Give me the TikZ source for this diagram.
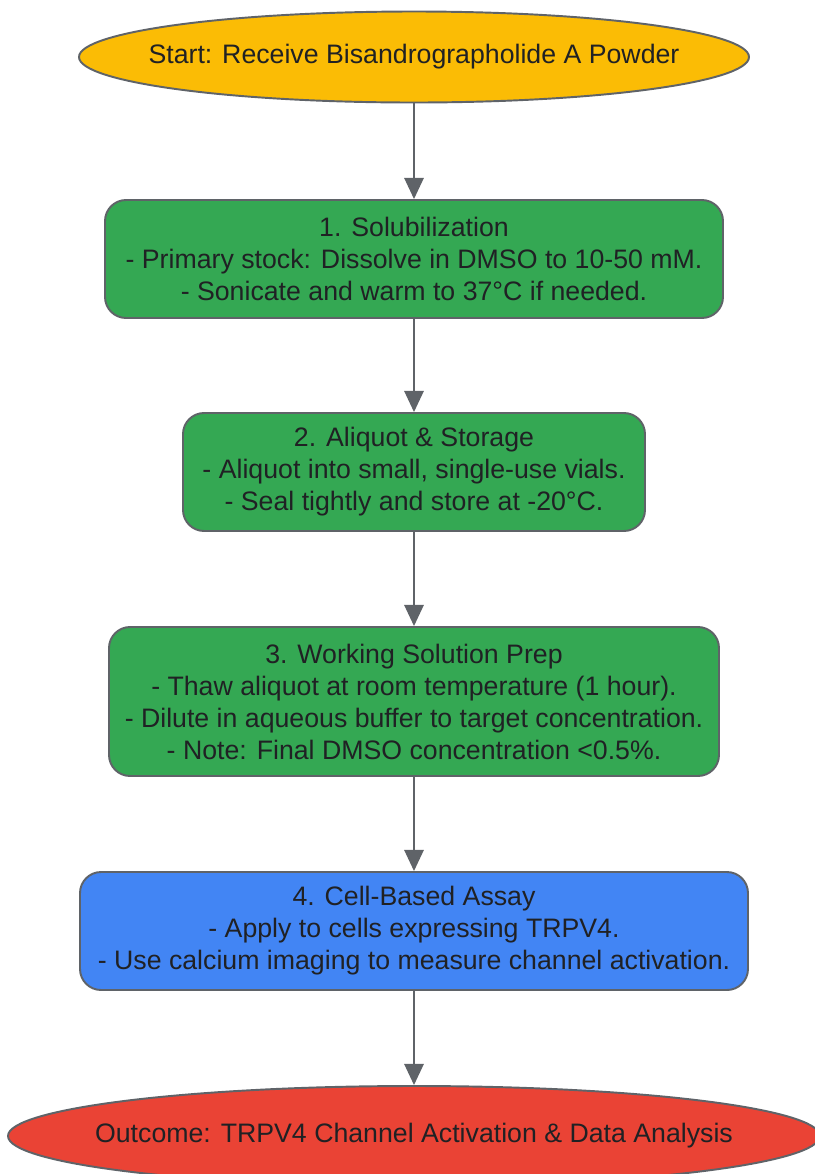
\documentclass[tikz,border=0pt]{standalone}
\usepackage{fontspec}
\setmainfont{Liberation Sans}
\usepackage{tikz}
\usetikzlibrary{shapes.geometric, arrows.meta}
\definecolor{startyellow}{HTML}{FBBC05}
\definecolor{stepgreen}{HTML}{34A853}
\definecolor{assayblue}{HTML}{4285F4}
\definecolor{outcomered}{HTML}{EA4335}
\definecolor{edgegray}{HTML}{5F6368}
\definecolor{textdark}{HTML}{202124}
\tikzset{
  flowend/.style={
    ellipse, draw=edgegray, line width=1.1pt, inner xsep=-1cm, inner ysep=0pt,
    font=\fontsize{15.2}{18.2}\selectfont, text=textdark
  },
  flowstep/.style={
    draw=edgegray, rounded corners=12pt, line width=1.1pt, align=center,
    font=\fontsize{15.2}{18.2}\selectfont, text=textdark, inner sep=0pt
  },
  flowarrow/.style={
    -{Triangle[length=12pt, width=11pt]}, line width=1.1pt, color=edgegray
  },
}
\begin{document}
\begin{tikzpicture}[x=0.02cm, y=-0.02cm]
  \useasboundingbox (0,0) rectangle (815,1174);

  % start and end
  \node[flowend, fill=startyellow, minimum width=670*0.02cm, minimum height=91*0.02cm]
    (start) at (414,57) {Start: Receive Bisandrographolide A Powder};
  \node[flowend, fill=outcomered, minimum width=812*0.02cm, minimum height=100*0.02cm]
    (outcome) at (414,1136) {Outcome: TRPV4 Channel Activation \& Data Analysis};

  % protocol steps
  \node[flowstep, fill=stepgreen, minimum width=618*0.02cm, minimum height=118*0.02cm]
    (solub) at (414,259)
    {1. Solubilization\\- Primary stock: Dissolve in DMSO to 10-50 mM.\\- Sonicate and warm to 37°C if needed.};
  \node[flowstep, fill=stepgreen, minimum width=462*0.02cm, minimum height=118*0.02cm]
    (aliquot) at (414,472)
    {2. Aliquot \& Storage\\- Aliquot into small, single-use vials.\\- Seal tightly and store at -20°C.};
  \node[flowstep, fill=stepgreen, minimum width=610*0.02cm, minimum height=149*0.02cm]
    (working) at (414,701.5)
    {3. Working Solution Prep\\- Thaw aliquot at room temperature (1 hour).\\- Dilute in aqueous buffer to target concentration.\\- Note: Final DMSO concentration <0.5\%.};
  \node[flowstep, fill=assayblue, minimum width=668*0.02cm, minimum height=118*0.02cm]
    (assay) at (414,931)
    {4. Cell-Based Assay\\- Apply to cells expressing TRPV4.\\- Use calcium imaging to measure channel activation.};

  % arrows
  \draw[flowarrow] (start) -- (solub);
  \draw[flowarrow] (solub) -- (aliquot);
  \draw[flowarrow] (aliquot) -- (working);
  \draw[flowarrow] (working) -- (assay);
  \draw[flowarrow] (assay) -- (outcome);
\end{tikzpicture}
\end{document}
